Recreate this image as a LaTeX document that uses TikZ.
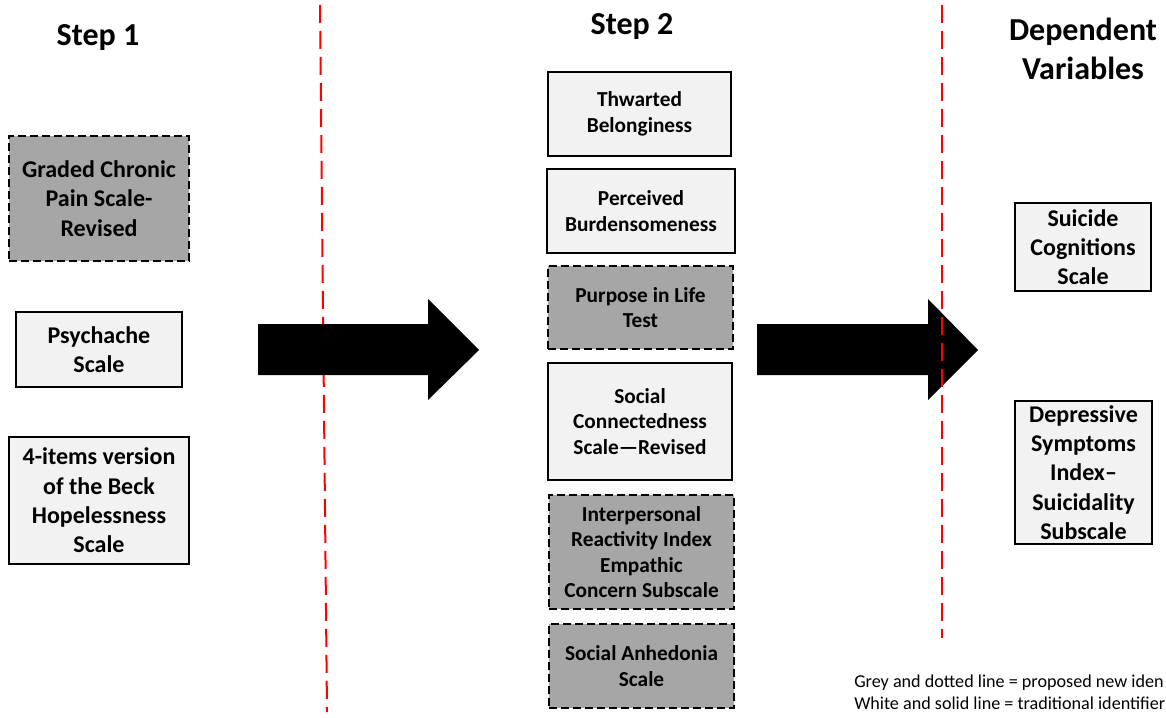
\documentclass[tikz,border=0pt]{standalone}
\usepackage{fontspec}
\setmainfont{Carlito}
\begin{document}
\begin{tikzpicture}[x=0.75pt,y=0.75pt,yscale=-1,xscale=1,
  solidbox/.style={draw=black, line width=2pt, fill={rgb, 255:red, 242; green, 242; blue, 242}, inner sep=0pt, align=center, font=\bfseries\fontsize{18}{22}\selectfont},
  greybox/.style={solidbox, fill={rgb, 255:red, 166; green, 166; blue, 166}, dash pattern=on 6pt off 3pt},
  midtext/.style={font=\bfseries\fontsize{16}{19.2}\selectfont},
  heading/.style={align=center, inner sep=0.75pt, font=\bfseries\fontsize{24}{29}\selectfont},
  keytext/.style={anchor=base west, inner sep=0pt, font=\fontsize{13.6}{16}\selectfont},
  divider/.style={draw={rgb, 255:red, 255; green, 0; blue, 0}, line width=1.5pt, dash pattern=on 13.5pt off 6pt}]
\useasboundingbox (0,0) rectangle (1166,717);

%Straight Lines
\draw [divider] (320,5) -- (327,712) ;
%Shape: Right Arrow
\fill [black] (258,324) -- (428,324) -- (428,299) -- (479,350) -- (428,400) -- (428,375) -- (258,375) -- cycle ;
%Shape: Right Arrow
\fill [black] (757,324) -- (928,324) -- (928,299) -- (978,350) -- (928,400) -- (928,375) -- (757,375) -- cycle ;
%Straight Lines
\draw [divider] (942,5) -- (942,638) ;

% Text Node
\node (step1) [heading] at (98,38) {Step 1};
% Text Node
\node (step2) [heading] at (632,27) {Step 2};
% Text Node
\node (depvar) [heading] at (1083,49) {Dependent\\Variables};

%Shape: Rectangle
\node (gcps) [greybox, minimum width=135pt, minimum height=93.75pt] at (99,198.5) {Graded Chronic\\Pain Scale-\\Revised};
%Shape: Rectangle
\node (psych) [solidbox, minimum width=124.5pt, minimum height=56.25pt] at (99,349.5) {Psychache\\Scale};
%Shape: Rectangle
\node (bhs) [solidbox, minimum width=135pt, minimum height=95.25pt] at (99,500.5) {4-items version\\of the Beck\\Hopelessness\\Scale};

%Shape: Rectangle
\node (tb) [solidbox, midtext, minimum width=137.25pt, minimum height=63pt] at (639.5,114) {Thwarted\\Belonginess};
%Shape: Rectangle
\node (pb) [solidbox, midtext, minimum width=141pt, minimum height=63pt] at (641,211) {Perceived\\Burdensomeness};
%Shape: Rectangle
\node (pil) [greybox, midtext, minimum width=138.75pt, minimum height=62.25pt] at (640.5,307.5) {Purpose in Life\\Test};
%Shape: Rectangle
\node (scs) [solidbox, midtext, minimum width=138pt, minimum height=87.75pt] at (640,421.5) {Social\\Connectedness\\Scale---Revised};
%Shape: Rectangle
\node (iri) [greybox, midtext, minimum width=138.75pt, minimum height=85.5pt] at (641.5,552) {Interpersonal\\Reactivity Index\\Empathic\\Concern Subscale};
%Shape: Rectangle
\node (sas) [greybox, midtext, minimum width=138.75pt, minimum height=63pt] at (641.5,666) {Social Anhedonia\\Scale};

%Shape: Rectangle
\node (scog) [solidbox, minimum width=102pt, minimum height=66pt] at (1083,247) {Suicide\\Cognitions\\Scale};
%Shape: Rectangle
\node (dsi) [solidbox, minimum width=102.75pt, minimum height=107.25pt] at (1083.5,472.5) {Depressive\\Symptoms\\Index--\\Suicidality\\Subscale};

% Text Node
\node (keygrey) [keytext] at (854,687) {Grey and dotted line = proposed new iden};
% Text Node
\node (keywhite) [keytext] at (854,709) {White and solid line = traditional identifier};

\end{tikzpicture}
\end{document}
